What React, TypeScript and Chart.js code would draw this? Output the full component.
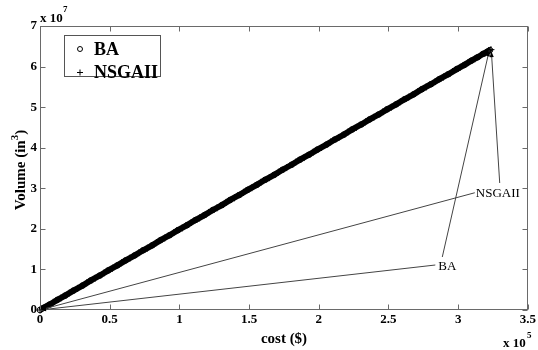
import { useEffect, useRef } from "react";
import { Chart, registerables } from "chart.js";

Chart.register(...registerables);

// ---- data ----
const seriesNames = ["BA", "NSGAII"];

const baCost = [0, 2500, 7000, 12500, 18000, 24000, 30500, 36500, 43000, 49000, 55500, 61500, 68000, 74000, 80500, 86500, 93000, 99000, 105500, 111500, 118000, 124000, 130500, 136500, 143000, 149000, 155500, 161500, 168000, 174000, 180500, 186500, 193000, 199000, 205500, 211500, 218000, 224000, 230500, 236500, 243000, 249000, 255500, 261500, 268000, 274000, 280500, 286500, 293000, 299000, 304500, 309500, 314000, 318000, 321000, 322800];
const baVolume = [0, 520000, 1360000, 2510000, 3540000, 4790000, 6030000, 7280000, 8510000, 9760000, 11000000, 12240000, 13470000, 14720000, 15950000, 17210000, 18430000, 19690000, 20910000, 22170000, 23400000, 24650000, 25870000, 27130000, 28350000, 29610000, 30840000, 32090000, 33310000, 34570000, 35800000, 37050000, 38280000, 39540000, 40760000, 42020000, 43240000, 44500000, 45730000, 46980000, 48200000, 49460000, 50690000, 51940000, 53160000, 54420000, 55650000, 56900000, 58120000, 59380000, 60410000, 61460000, 62300000, 63150000, 63690000, 64060000];

const nsgaCost = [0, 4500, 9500, 15000, 21000, 27000, 33500, 39500, 46000, 52000, 58500, 64500, 71000, 77000, 83500, 89500, 96000, 102000, 108500, 114500, 121000, 127000, 133500, 139500, 146000, 152000, 158500, 164500, 171000, 177000, 183500, 189500, 196000, 202000, 208500, 214500, 221000, 227000, 233500, 239500, 246000, 252000, 258500, 264500, 271000, 277000, 283500, 289500, 296000, 301500, 307000, 312000, 316000, 319500, 322000, 323500];
const nsgaVolume = [0, 870000, 1910000, 2950000, 4200000, 5330000, 6680000, 7810000, 9160000, 10290000, 11640000, 12770000, 14120000, 15250000, 16600000, 17730000, 19090000, 20210000, 21570000, 22690000, 24050000, 25170000, 26530000, 27650000, 29010000, 30130000, 31490000, 32610000, 33970000, 35090000, 36450000, 37570000, 38930000, 40050000, 41410000, 42530000, 43890000, 45010000, 46370000, 47490000, 48850000, 49980000, 51330000, 52460000, 53810000, 54940000, 56290000, 57420000, 58780000, 59830000, 60960000, 61900000, 62750000, 63390000, 63940000, 64180000];

const xTicks = [0, 50000, 100000, 150000, 200000, 250000, 300000, 350000];
const yTicks = [0, 10000000, 20000000, 30000000, 40000000, 50000000, 60000000, 70000000];
const xLabels = ["0", "0.5", "1", "1.5", "2", "2.5", "3", "3.5"];
const yLabels = ["0", "1", "2", "3", "4", "5", "6", "7"];

// callouts: text, text anchor (left-middle), arrow from text to origin, arrow from text-top to Pareto end
const calloutText = ["NSGAII", "BA"];
const calloutTextX = [311900, 285000];
const calloutTextY = [28900000, 11000000];
const calloutLowTailX = [311900, 283600];
const calloutLowTailY = [28900000, 11090000];
const calloutLowHeadX = [0, 0];
const calloutLowHeadY = [0, 0];
const calloutHighTailX = [329800, 288600];
const calloutHighTailY = [31300000, 13060000];
const calloutHighHeadX = [323800, 322300];
const calloutHighHeadY = [63800000, 64000000];

const SERIF = "'Liberation Serif', 'Times New Roman', serif";

function arrow(ctx: CanvasRenderingContext2D, x1: number, y1: number, x2: number, y2: number) {
  ctx.beginPath();
  ctx.moveTo(x1, y1);
  ctx.lineTo(x2, y2);
  ctx.stroke();
  const ang = Math.atan2(y2 - y1, x2 - x1);
  const L = 6, W = 2;
  ctx.beginPath();
  ctx.moveTo(x2, y2);
  ctx.lineTo(x2 - L * Math.cos(ang) + W * Math.sin(ang), y2 - L * Math.sin(ang) - W * Math.cos(ang));
  ctx.lineTo(x2 - L * Math.cos(ang) - W * Math.sin(ang), y2 - L * Math.sin(ang) + W * Math.cos(ang));
  ctx.closePath();
  ctx.fill();
}

const decorPlugin = {
  id: "decor",
  afterDatasetsDraw(chart: any) {
    const { ctx, chartArea: a, scales } = chart;
    const xs = scales.x, ys = scales.y;
    ctx.save();
    // frame
    ctx.strokeStyle = "#6a6a6a";
    ctx.lineWidth = 1;
    const L = Math.round(a.left) + 0.5, R = Math.round(a.right) - 0.5;
    const T = Math.round(a.top) + 0.5, B = Math.round(a.bottom) - 0.5;
    ctx.strokeRect(L, T, R - L, B - T);
    ctx.beginPath();
    xTicks.forEach((v) => {
      const px = Math.round(xs.getPixelForValue(v)) + 0.5;
      ctx.moveTo(px, B); ctx.lineTo(px, B - 5);
      ctx.moveTo(px, T); ctx.lineTo(px, T + 5);
    });
    yTicks.forEach((v) => {
      const py = Math.round(ys.getPixelForValue(v)) + 0.5;
      ctx.moveTo(L, py); ctx.lineTo(L + 5, py);
      ctx.moveTo(R, py); ctx.lineTo(R - 5, py);
    });
    ctx.stroke();

    // callouts
    ctx.strokeStyle = "#444";
    ctx.fillStyle = "#000";
    ctx.lineWidth = 1;
    calloutText.forEach((t, i) => {
      arrow(ctx, xs.getPixelForValue(calloutLowTailX[i]), ys.getPixelForValue(calloutLowTailY[i]),
        xs.getPixelForValue(calloutLowHeadX[i]), ys.getPixelForValue(calloutLowHeadY[i]));
      arrow(ctx, xs.getPixelForValue(calloutHighTailX[i]), ys.getPixelForValue(calloutHighTailY[i]),
        xs.getPixelForValue(calloutHighHeadX[i]), ys.getPixelForValue(calloutHighHeadY[i]));
      ctx.font = `13px ${SERIF}`;
      ctx.textAlign = "left";
      ctx.textBaseline = "middle";
      ctx.fillText(t, xs.getPixelForValue(calloutTextX[i]) + 1, ys.getPixelForValue(calloutTextY[i]) + 1);
    });

    // legend
    ctx.fillStyle = "#fff";
    ctx.fillRect(64, 35, 97, 42);
    ctx.strokeStyle = "#555";
    ctx.strokeRect(64.5, 35.5, 96, 41);
    ctx.fillStyle = "#000";
    ctx.strokeStyle = "#000";
    ctx.beginPath();
    ctx.arc(80, 49, 2.5, 0, Math.PI * 2);
    ctx.stroke();
    ctx.beginPath();
    ctx.moveTo(77, 72.5); ctx.lineTo(83, 72.5);
    ctx.moveTo(80, 69.5); ctx.lineTo(80, 75.5);
    ctx.stroke();
    ctx.font = `bold 18px ${SERIF}`;
    ctx.textBaseline = "alphabetic";
    ctx.fillText(seriesNames[0], 94, 55);
    ctx.fillText(seriesNames[1], 94, 78);

    // axis titles and exponents
    ctx.font = `bold 15px ${SERIF}`;
    ctx.textAlign = "center";
    ctx.fillText("cost ($)", 284, 343);
    ctx.save();
    ctx.translate(25, 170);
    ctx.rotate(-Math.PI / 2);
    ctx.textAlign = "left";
    const base = "Volume (in";
    const w1 = ctx.measureText(base).width;
    ctx.font = `bold 11px ${SERIF}`;
    const w2 = ctx.measureText("3").width;
    ctx.font = `bold 15px ${SERIF}`;
    const w3 = ctx.measureText(")").width;
    const total = w1 + w2 + w3;
    let x0 = -total / 2;
    ctx.fillText(base, x0, 0);
    ctx.font = `bold 11px ${SERIF}`;
    ctx.fillText("3", x0 + w1, -7);
    ctx.font = `bold 15px ${SERIF}`;
    ctx.fillText(")", x0 + w1 + w2, 0);
    ctx.restore();

    ctx.textAlign = "left";
    ctx.font = `bold 13px ${SERIF}`;
    ctx.fillText("x 10", 40, 22);
    ctx.fillText("x 10", 503, 347);
    ctx.font = `bold 9px ${SERIF}`;
    ctx.fillText("7", 63, 12);
    ctx.fillText("5", 527, 338);
    ctx.restore();
  },
};

export default function App() {
  const ref = useRef<HTMLCanvasElement | null>(null);
  useEffect(() => {
    if (!ref.current) return;
    const chart = new Chart(ref.current, {
      type: "scatter",
      data: {
        datasets: [
          {
            label: seriesNames[0],
            data: baCost.map((c, i) => ({ x: c, y: baVolume[i] })),
            showLine: true,
            borderColor: "#000",
            borderWidth: 6,
            pointStyle: "circle",
            pointRadius: 2.8,
            pointBorderWidth: 1,
            pointBorderColor: "#000",
            pointBackgroundColor: "rgba(0,0,0,0)",
            clip: false,
          } as any,
          {
            label: seriesNames[1],
            data: nsgaCost.map((c, i) => ({ x: c, y: nsgaVolume[i] })),
            showLine: true,
            borderColor: "#000",
            borderWidth: 4,
            pointStyle: "cross",
            pointRadius: 3.5,
            pointBorderWidth: 1,
            pointBorderColor: "#000",
            clip: false,
          } as any,
        ],
      },
      options: {
        animation: false,
        responsive: false,
        events: [],
        layout: { padding: { left: 0, right: 8, top: 26, bottom: 0 } },
        plugins: { legend: { display: false }, tooltip: { enabled: false } },
        scales: {
          x: {
            type: "linear",
            min: 0,
            max: 350000,
            afterFit: (s: any) => { s.height = 40; },
            afterBuildTicks: (s: any) => { s.ticks = xTicks.map((v) => ({ value: v })); },
            grid: { display: false, drawTicks: false },
            border: { display: false },
            ticks: {
              padding: 2,
              autoSkip: false,
              maxRotation: 0,
              color: "#000",
              font: { family: SERIF, size: 13, weight: "bold" },
              callback: (v: any) => xLabels[xTicks.indexOf(Number(v))] ?? "",
            },
          },
          y: {
            type: "linear",
            min: 0,
            max: 70000000,
            afterFit: (s: any) => { s.width = 40; },
            afterBuildTicks: (s: any) => { s.ticks = yTicks.map((v) => ({ value: v })); },
            grid: { display: false, drawTicks: false },
            border: { display: false },
            ticks: {
              padding: 3,
              autoSkip: false,
              color: "#000",
              font: { family: SERIF, size: 13, weight: "bold" },
              callback: (v: any) => yLabels[yTicks.indexOf(Number(v))] ?? "",
            },
          },
        },
      } as any,
      plugins: [decorPlugin],
    });
    return () => chart.destroy();
  }, []);
  return (
    <div style={{ position: "absolute", left: 0, top: 0, width: 538, height: 350, background: "#fff" }}>
      <canvas ref={ref} width={538} height={350} style={{ display: "block" }} />
    </div>
  );
}
